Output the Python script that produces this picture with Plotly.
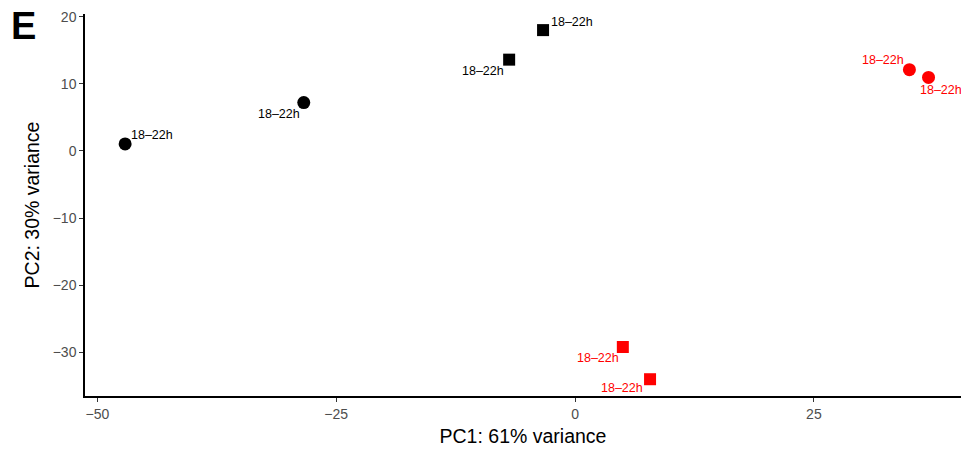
import plotly.graph_objects as go

# PCA scores per sample
pc1 = [-47.1, -28.4, -6.9, -3.35, 35.0, 37.0, 5.0, 7.85]
pc2 = [1.05, 7.2, 13.6, 18.0, 12.1, 10.95, -29.2, -34.0]
sample_labels = ["18–22h"] * 8
colors = ["black", "black", "black", "black", "red", "red", "red", "red"]
symbols = ["circle", "circle", "square", "square", "circle", "circle", "square", "square"]

# label placement: (xanchor, yanchor, xshift, yshift)
label_pos = [
    ("left", "bottom", 4, 0),
    ("right", "top", -2, -2),
    ("right", "top", -3, -2),
    ("left", "bottom", 6, -1),
    ("right", "bottom", -3, 1),
    ("center", "top", 12, -4),
    ("right", "top", -2, -2),
    ("right", "top", -5, 0),
]

x_ticks = [-50, -25, 0, 25]
y_ticks = [-30, -20, -10, 0, 10, 20]

FONT = "Liberation Sans, Arial, sans-serif"

fig = go.Figure()
for x, y, c, s in zip(pc1, pc2, colors, symbols):
    fig.add_trace(go.Scatter(
        x=[x], y=[y], mode="markers",
        marker=dict(color=c, symbol=s, size=13 if s == "circle" else 12, line=dict(width=0)),
        showlegend=False, hoverinfo="skip",
    ))

for x, y, t, c, (xa, ya, xs, ys) in zip(pc1, pc2, sample_labels, colors, label_pos):
    fig.add_annotation(
        x=x, y=y, text=t, showarrow=False, xanchor=xa, yanchor=ya,
        xshift=xs, yshift=ys,
        font=dict(family=FONT, size=12.5, color=c),
    )

fig.add_annotation(
    text="<b>E</b>", xref="paper", yref="paper", x=-0.087, y=1.03,
    xanchor="left", yanchor="top", showarrow=False,
    font=dict(family=FONT, size=38, color="black"),
)

axis_common = dict(
    showgrid=False, zeroline=False, showline=True, linecolor="black", linewidth=1.5,
    ticks="outside", ticklen=4, tickwidth=1, tickcolor="#333333",
    tickfont=dict(family=FONT, size=14, color="#4d4d4d"),
)

fig.update_layout(
    width=961, height=451,
    margin=dict(l=85, r=0, t=14, b=55),
    paper_bgcolor="white", plot_bgcolor="white",
    xaxis=dict(
        range=[-51.3, 40.4], tickvals=x_ticks, ticktext=[str(v).replace("-", "−") for v in x_ticks],
        title=dict(text="PC1: 61% variance", standoff=9,
                   font=dict(family=FONT, size=19.5, color="black")),
        **axis_common,
    ),
    yaxis=dict(
        range=[-36.5, 20.4], tickvals=y_ticks, ticktext=[str(v).replace("-", "−") for v in y_ticks],
        title=dict(text="PC2: 30% variance", standoff=8,
                   font=dict(family=FONT, size=19.5, color="black")),
        **axis_common,
    ),
)

fig.write_html("out.html")
